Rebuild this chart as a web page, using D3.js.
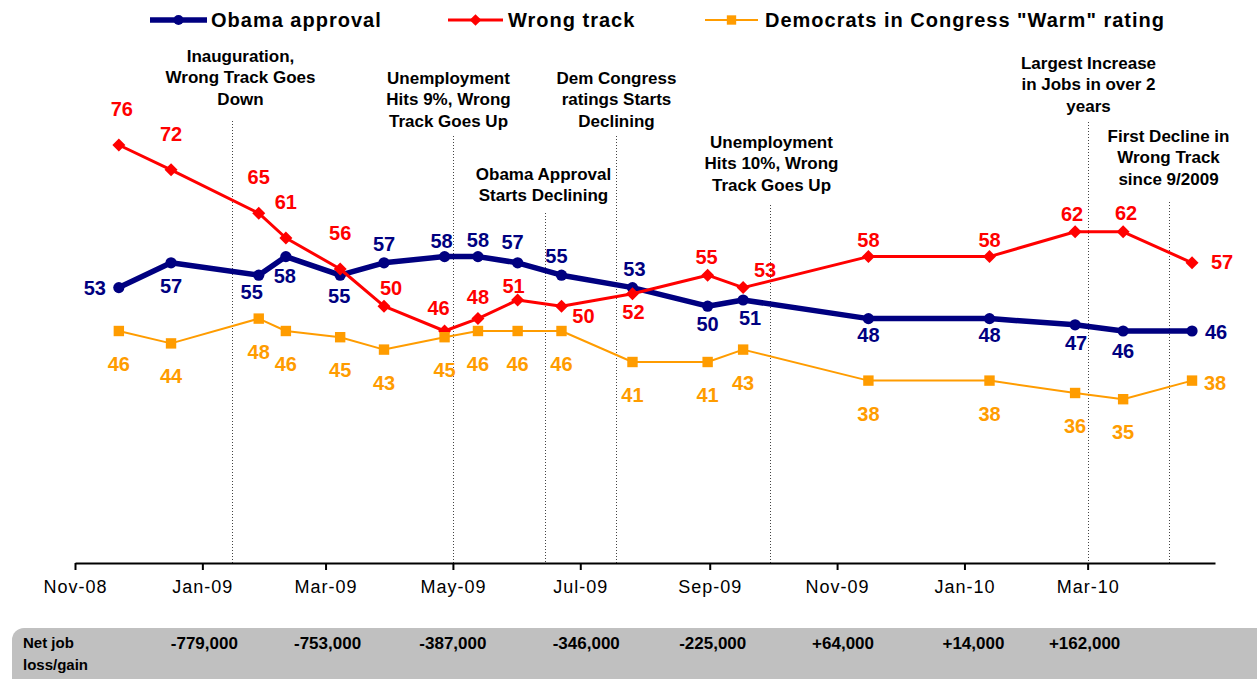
<!DOCTYPE html>
<html><head><meta charset="utf-8">
<script src="https://cdn.jsdelivr.net/npm/d3@7"></script>
<style>
html,body{margin:0;padding:0;background:#fff;}
svg{display:block;font-family:"Liberation Sans",Arial,Helvetica,sans-serif;}
</style></head><body>
<svg id="chart" width="1257" height="679"></svg>
<script>
// Survey dates, shared by all three series
const surveyDates = ["2008-11-22","2008-12-17","2009-01-28","2009-02-10","2009-03-08","2009-03-29",
  "2009-04-27","2009-05-13","2009-06-01","2009-06-22","2009-07-26","2009-08-31","2009-09-17",
  "2009-11-16","2010-01-13","2010-02-23","2010-03-18","2010-04-20"];
const obamaApproval = [53,57,55,58,55,57,58,58,57,55,53,50,51,48,48,47,46,46];
const wrongTrack    = [76,72,65,61,56,50,46,48,51,50,52,55,53,58,58,62,62,57];
const demWarm       = [46,44,48,46,45,43,45,46,46,46,41,41,43,38,38,36,35,38];
const seriesNames = ["Obama approval", "Wrong track", "Democrats in Congress \"Warm\" rating"];

// Axis ticks every two months
const tickMonths = ["2008-11-01","2009-01-01","2009-03-01","2009-05-01","2009-07-01",
  "2009-09-01","2009-11-01","2010-01-01","2010-03-01"];

// Net job loss/gain row
const jobMonths = ["2009-01-01","2009-03-01","2009-05-01","2009-07-01","2009-09-01",
  "2009-11-01","2010-01-01","2010-03-01"];
const jobChange = ["-779,000","-753,000","-387,000","-346,000","-225,000","+64,000","+14,000","+162,000"];

// Events marked with dotted rules
const eventDates = ["2009-01-15","2009-05-01","2009-06-14","2009-07-18","2009-09-30","2010-03-01","2010-04-09"];
const eventNotes = [
  ["Inauguration,", "Wrong Track Goes", "Down"],
  ["Unemployment", "Hits 9%, Wrong", "Track Goes Up"],
  ["Obama Approval", "Starts Declining"],
  ["Dem Congress", "ratings Starts", "Declining"],
  ["Unemployment", "Hits 10%, Wrong", "Track Goes Up"],
  ["Largest Increase", "in Jobs in over 2", "years"],
  ["First Decline in", "Wrong Track", "since 9/2009"]
];

// ---- layout ----
const parse = d3.timeParse("%Y-%m-%d");
const axisY = 563;
const x = d3.scaleTime().domain([parse("2008-11-01"), parse("2010-05-01")]).range([75, 1215]);
const y = d3.scaleLinear().domain([8.5, 80]).range([563.5, 120.2]);

const svg = d3.select("#chart");

// Event text layout: text offset from rule, first text line centre, rule top
const eventLayout = [
  {dx: 8, ty: 56, top: 121},
  {dx: -5, ty: 78, top: 136},
  {dx: -2, ty: 174, top: 213},
  {dx: 0, ty: 78, top: 136},
  {dx: 1, ty: 142, top: 205},
  {dx: 0, ty: 63, top: 122},
  {dx: -1, ty: 136, top: 202}
];

// Label offsets [dx, dy] from each marker
const obamaLabelPos = [[-24,0],[0,23],[-7,17],[-1,19],[-1,21],[0,-19],[-3,-16],[0,-17],[-5,-21],[-5,-19],
  [2,-19],[0,18],[7,18],[0,16],[0,16],[1,18],[0,20],[24,1]];
const wrongLabelPos = [[3,-36],[0,-36],[0,-36],[0,-36],[0,-36],[7,-18],[-6,-23],[0,-22],[-4,-14],[22,10],
  [1,18],[-1,-18],[22,-18],[0,-17],[0,-17],[-3,-18],[3,-19],[30,-1]];
const warmLabelPos = demWarm.map((v, i) => i === demWarm.length - 1 ? [23, 2] : [0, 33]);

const NAVY = "#000080", RED = "#FF0000", ORANGE = "#FF9C00";

const series = [
  {name: seriesNames[0], values: obamaApproval, color: NAVY, width: 5.5, marker: "circle", labels: obamaLabelPos},
  {name: seriesNames[1], values: wrongTrack, color: RED, width: 3, marker: "diamond", labels: wrongLabelPos},
  {name: seriesNames[2], values: demWarm, color: ORANGE, width: 2, marker: "square", labels: warmLabelPos}
];

function drawMarker(g, type, cx, cy, color, scale) {
  const s = scale || 1;
  if (type === "circle") {
    g.append("circle").attr("cx", cx).attr("cy", cy).attr("r", 5.6 * s).attr("fill", color);
  } else if (type === "diamond") {
    const h = 6.5 * s;
    g.append("path").attr("d", `M${cx},${cy - h}L${cx + h},${cy}L${cx},${cy + h}L${cx - h},${cy}Z`).attr("fill", color);
  } else {
    const h = 5.2 * s;
    g.append("rect").attr("x", cx - h).attr("y", cy - h).attr("width", 2 * h).attr("height", 2 * h).attr("fill", color);
  }
}

// ---- event rules ----
const evG = svg.append("g");
eventDates.forEach((d, i) => {
  const ex = Math.round(x(parse(d))) + 0.5;
  const L = eventLayout[i];
  evG.append("line").attr("x1", ex).attr("x2", ex).attr("y1", L.top).attr("y2", axisY)
    .attr("stroke", "#444").attr("stroke-width", 1).attr("stroke-dasharray", "1,2");
  const t = evG.append("text").attr("text-anchor", "middle").attr("font-size", 17).attr("font-weight", "bold")
    .attr("fill", "#000");
  eventNotes[i].forEach((line, j) => {
    t.append("tspan").attr("x", ex + L.dx).attr("y", L.ty + j * 21.5).attr("dy", "0.35em").text(line);
  });
});

// ---- x axis ----
const axisG = svg.append("g").attr("transform", `translate(0,${axisY})`);
axisG.call(d3.axisBottom(x).tickValues(tickMonths.map(parse)).tickFormat(d3.timeFormat("%b-%y"))
  .tickSize(7).tickSizeOuter(0));
axisG.select(".domain").attr("stroke", "#000").attr("stroke-width", 2);
axisG.selectAll(".tick line").attr("stroke", "#000").attr("stroke-width", 2);
axisG.selectAll(".tick text").attr("font-family", "'Liberation Sans',Arial,sans-serif")
  .attr("font-size", 18).attr("fill", "#000").attr("y", 24).attr("dy", "0.35em").attr("letter-spacing", 1);

// ---- series lines and markers ----
series.forEach(s => {
  const pts = s.values.map((v, i) => [x(parse(surveyDates[i])), y(v)]);
  const g = svg.append("g");
  g.append("path").attr("d", d3.line()(pts)).attr("fill", "none").attr("stroke", s.color)
    .attr("stroke-width", s.width).attr("stroke-linejoin", "round");
  pts.forEach(p => drawMarker(g, s.marker, p[0], p[1], s.color));
});

// ---- data labels ----
series.forEach(s => {
  const g = svg.append("g").attr("font-size", 20).attr("font-weight", "bold").attr("fill", s.color)
    .attr("text-anchor", "middle");
  s.values.forEach((v, i) => {
    const px = x(parse(surveyDates[i])), py = y(v);
    g.append("text").attr("x", px + s.labels[i][0]).attr("y", py + s.labels[i][1]).attr("dy", "0.35em").text(v);
  });
});

// ---- legend ----
const legendItems = [
  {x0: 150, x1: 207, tx: 211},
  {x0: 448, x1: 503, tx: 508},
  {x0: 705, x1: 758, tx: 765}
];
const legG = svg.append("g");
series.forEach((s, i) => {
  const L = legendItems[i];
  legG.append("line").attr("x1", L.x0).attr("x2", L.x1).attr("y1", 20).attr("y2", 20)
    .attr("stroke", s.color).attr("stroke-width", s.width);
  drawMarker(legG, s.marker, (L.x0 + L.x1) / 2, 20, s.color, 0.9);
  legG.append("text").attr("x", L.tx).attr("y", 20).attr("dy", "0.35em").attr("font-size", 20)
    .attr("font-weight", "bold").attr("letter-spacing", 1).attr("fill", "#000").text(s.name);
});

// ---- net job loss/gain band ----
const bandG = svg.append("g");
bandG.append("rect").attr("x", 12).attr("y", 628).attr("width", 1270).attr("height", 70).attr("rx", 12)
  .attr("fill", "#C0C0C0");
const bandText = bandG.append("text").attr("font-size", 15).attr("font-weight", "bold").attr("fill", "#000");
bandText.append("tspan").attr("x", 23).attr("y", 643).attr("dy", "0.35em").text("Net job");
bandText.append("tspan").attr("x", 23).attr("y", 665).attr("dy", "0.35em").text("loss/gain");
const jobNudge = [2, 2, 0, 6, 3, 6, 9, -3];
jobMonths.forEach((d, i) => {
  bandG.append("text").attr("x", x(parse(d)) + jobNudge[i]).attr("y", 643).attr("dy", "0.35em")
    .attr("text-anchor", "middle").attr("font-size", 17).attr("font-weight", "bold").attr("fill", "#000")
    .text(jobChange[i]);
});
</script>
</body></html>
